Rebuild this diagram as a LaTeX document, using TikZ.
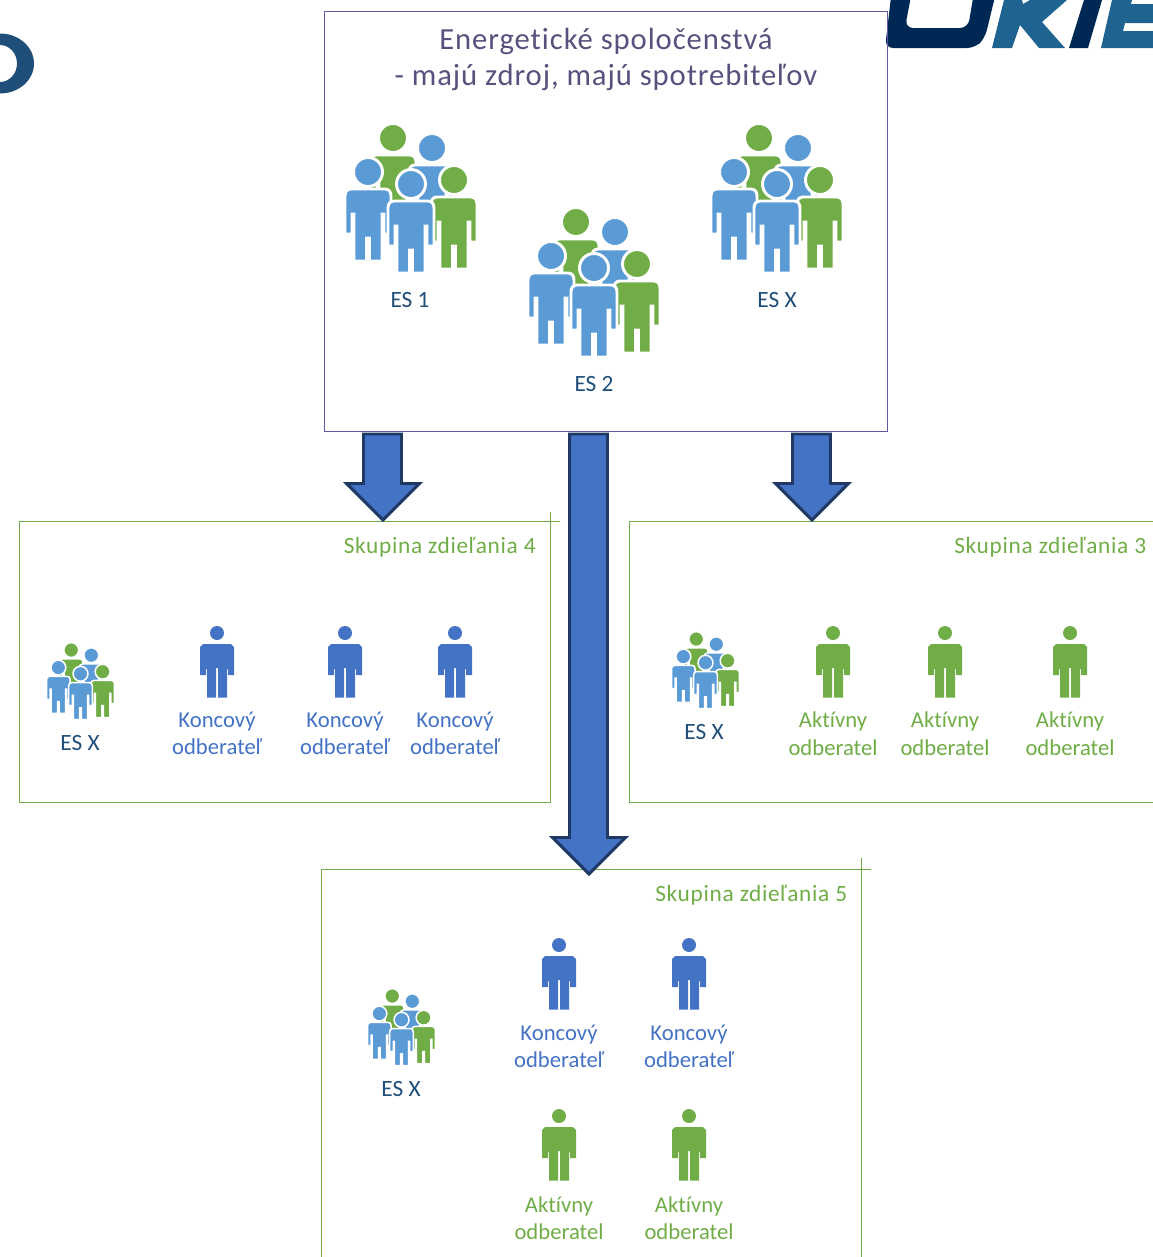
\documentclass[tikz,border=0pt]{standalone}
\usepackage{fontspec}
\setmainfont{Carlito}[Ligatures=NoCommon]
\definecolor{boxpurple}{HTML}{5F5B9E}
\definecolor{titlecol}{HTML}{56527E}
\definecolor{esblue}{HTML}{1F4E79}
\definecolor{midblue}{HTML}{5B9BD5}
\definecolor{consblue}{HTML}{4472C4}
\definecolor{leaf}{HTML}{70AD47}
\definecolor{arrowline}{HTML}{1F3864}
\definecolor{navy}{HTML}{002855}
\definecolor{logoblue}{HTML}{1F6491}
\tikzset{
  groupbox/.style={draw=leaf,line width=.95pt},
  blockarrow/.style={fill=consblue,draw=arrowline,line width=2.2pt,miter limit=10},
  eslabel/.style={text=esblue,font=\fontsize{17.5}{20}\selectfont,inner sep=0pt},
  conslabel/.style={text=consblue,font=\fontsize{17}{20.6}\selectfont,align=center,inner sep=0pt},
  activelabel/.style={text=leaf,font=\fontsize{17}{20.6}\selectfont,align=center,inner sep=0pt},
  grouptitle/.style={text=leaf,font=\fontsize{17.5}{20}\addfontfeatures{LetterSpace=3}\selectfont,inner sep=0pt},
  maintitle/.style={text=titlecol,font=\fontsize{23}{26.3}\addfontfeatures{LetterSpace=3}\selectfont,align=center,inner sep=0pt},
}
% single person: head centre at (#1,#2)
\newcommand\oneperson[3]{%
  \fill[#3] (#1,#2) circle[radius=7];
  \fill[#3,shift={(#1,#2)}] (-17,14) -- (-14,11) -- (14,11) -- (17,14) -- (17,42) -- (11,42) -- (11,36) -- (10,36) -- (10,64.5) -- (1,64.5) -- (1,35) -- (-1,35) -- (-1,64.5) -- (-10,64.5) -- (-10,36) -- (-11,36) -- (-11,42) -- (-17,42) -- cycle;
}
% one figure of a crowd: head centre at (#1,#2)
\newcommand\crowdman[4]{%
  \begin{scope}[shift={(#1,#2)}]
  \fill[#3,draw=white,line width=#4] (-23,24) .. controls (-23,20) and (-21,17) .. (-17,17) -- (17,17) .. controls (21,17) and (23,20) .. (23,24) -- (23,62) -- (16,62) -- (16,42) -- (14,42) -- (14,89) -- (1.5,89) -- (1.5,66) -- (-1.5,66) -- (-1.5,89) -- (-14,89) -- (-14,42) -- (-16,42) -- (-16,62) -- (-23,62) -- cycle;
  \fill[#3,draw=white,line width=#4] (0,0) circle[radius=14.5];
  \end{scope}
}
\newcommand\crowd[3]{%
  \begin{scope}[shift={(#1,#2)},scale=#3]
  \pgfmathsetlengthmacro\wl{2.2pt*#3}
  \crowdman{-18}{-62}{leaf}{\wl}
  \crowdman{21}{-52}{midblue}{\wl}
  \crowdman{-43}{-28}{midblue}{\wl}
  \crowdman{43}{-20}{leaf}{\wl}
  \crowdman{0}{-16}{midblue}{\wl}
  \end{scope}
}
\begin{document}
\begin{tikzpicture}[x=.75pt,y=-.75pt]
\useasboundingbox (0,0) rectangle (1153,1257);
\clip (0,0) rectangle (1153,1257);
% logo fragments
\fill[esblue,even odd rule] (0,63.5) ellipse[x radius=34,y radius=30] (0,63.5) ellipse[x radius=17,y radius=18.5];
\fill[navy,rounded corners=6pt] (893,-20) -- (885,48) -- (975,48) -- (985,38) -- (999,-20) -- (976,-20) -- (968,28) -- (905,28) -- (914,-20) -- cycle;
\fill[logoblue] (992,48) -- (1012,48) -- (1020,25) -- (1039,48) -- (1065,48) -- (1042,22) -- (1067,0) -- (1030,0) -- (1023,4) -- (1022,0) -- (1004,0) -- cycle;
\fill[navy] (1069,48) -- (1088,48) -- (1102,0) -- (1084,0) -- cycle;
\fill[logoblue] (1101,48) -- (1153,48) -- (1153,31) -- (1123,31) -- (1125,23) -- (1153,23) -- (1153,4) -- (1131,4) -- (1132,0) -- (1112,0) -- cycle;
% main box
\draw[boxpurple,line width=.75pt] (324.5,11) rectangle (887,431);
\node[maintitle] (title) at (606,59.5) {Energetické spoločenstvá\\- majú zdroj, majú spotrebiteľov};
\crowd{411}{200}{1}
\crowd{594}{284}{1}
\crowd{777}{200}{1}
\node[eslabel] (es1) at (410,300) {ES 1};
\node[eslabel] (es2) at (594,384) {ES 2};
\node[eslabel] (es3) at (777,300) {ES X};
% group boxes
\draw[groupbox] (560,521.5) -- (19.5,521.5) -- (19.5,802.5) -- (550.5,802.5) -- (550.5,512);
\draw[groupbox] (1160,521.5) -- (629.5,521.5) -- (629.5,802.5) -- (1160,802.5);
\draw[groupbox] (871,869.5) -- (321.5,869.5) -- (321.5,1260);
\draw[groupbox] (861.5,858) -- (861.5,1260);
% arrows
\draw[blockarrow] (363.5,434) -- (401.5,434) -- (401.5,483.5) -- (419.5,483.5) -- (383,520) -- (346.5,483.5) -- (363.5,483.5) -- cycle;
\draw[blockarrow] (569.5,434) -- (607.5,434) -- (607.5,837.5) -- (625.5,837.5) -- (589,874) -- (552.5,837.5) -- (569.5,837.5) -- cycle;
\draw[blockarrow] (792.5,434) -- (830.5,434) -- (830.5,483.5) -- (848.5,483.5) -- (812,520) -- (775.5,483.5) -- (792.5,483.5) -- cycle;
% group 4
\node[grouptitle,anchor=east] (g4) at (536,547) {Skupina zdieľania 4};
\crowd{80.5}{682}{.515}
\node[eslabel] (es4) at (80,743) {ES X};
\oneperson{217}{633}{consblue}
\oneperson{345}{633}{consblue}
\oneperson{455}{633}{consblue}
\node[conslabel] (k1) at (217,733.5) {Koncový\\odberateľ};
\node[conslabel] (k2) at (345,733.5) {Koncový\\odberateľ};
\node[conslabel] (k3) at (455,733.5) {Koncový\\odberateľ};
% group 3
\node[grouptitle,anchor=east] (g3) at (1146.5,547) {Skupina zdieľania 3};
\crowd{705.5}{671}{.515}
\node[eslabel] (es5) at (704,732) {ES X};
\oneperson{833}{633}{leaf}
\oneperson{945}{633}{leaf}
\oneperson{1070}{633}{leaf}
\node[activelabel] (a1) at (833,733.5) {Aktívny\\odberatel};
\node[activelabel] (a2) at (945,733.5) {Aktívny\\odberatel};
\node[activelabel] (a3) at (1070,733.5) {Aktívny\\odberatel};
% group 5
\node[grouptitle,anchor=east] (g5) at (847.5,895) {Skupina zdieľania 5};
\crowd{401.5}{1028}{.515}
\node[eslabel] (es6) at (401,1089) {ES X};
\oneperson{559}{945}{consblue}
\oneperson{689}{945}{consblue}
\oneperson{559}{1116}{leaf}
\oneperson{689}{1116}{leaf}
\node[conslabel] (k4) at (559,1046.5) {Koncový\\odberateľ};
\node[conslabel] (k5) at (689,1046.5) {Koncový\\odberateľ};
\node[activelabel] (a4) at (559,1218) {Aktívny\\odberatel};
\node[activelabel] (a5) at (689,1218) {Aktívny\\odberatel};
\end{tikzpicture}
\end{document}
